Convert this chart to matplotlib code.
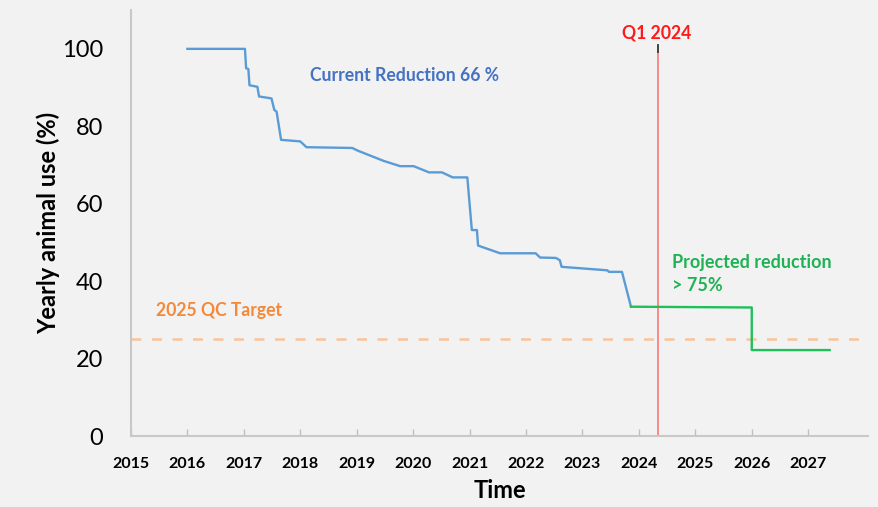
import matplotlib.pyplot as plt

plt.rcParams['font.family'] = ['Lato', 'DejaVu Sans']

current_x = [2016.0, 2017.02, 2017.04, 2017.08, 2017.10, 2017.24, 2017.27, 2017.49, 2017.54, 2017.58,
             2017.66, 2018.0, 2018.11, 2018.92, 2019.02, 2019.47, 2019.77, 2020.01, 2020.28, 2020.51,
             2020.70, 2020.96, 2021.04, 2021.13, 2021.15, 2021.54, 2022.17, 2022.25, 2022.53, 2022.60,
             2022.63, 2023.44, 2023.47, 2023.70, 2023.86]
current_y = [100, 100, 95, 94.8, 90.6, 90.2, 87.7, 87.2, 84.2, 83.8,
             76.5, 76.1, 74.6, 74.4, 73.7, 71.1, 69.7, 69.7, 68.1, 68.1,
             66.8, 66.8, 53.2, 53.2, 49.2, 47.2, 47.2, 46.1, 46.0, 45.4,
             43.7, 42.8, 42.4, 42.4, 33.4]

projected_x = [2023.86, 2026.0, 2026.0, 2027.38]
projected_y = [33.4, 33.2, 22.2, 22.2]

qc_target = 25
q1_2024 = 2024.34
years = list(range(2015, 2028))
y_ticks = [0, 20, 40, 60, 80, 100]

bg = '#f2f2f2'
fig = plt.figure(figsize=(8.79, 5.07), dpi=100, facecolor=bg)
ax = fig.add_axes([0.149, 0.140, 0.8385, 0.840], facecolor=bg)

ax.axhline(qc_target, color='#f9c39b', lw=1.8, dashes=(4, 4.2), zorder=1)
ax.plot(current_x, current_y, color='#5b9bd5', lw=1.7, zorder=3)
ax.plot(projected_x, projected_y, color='#1fbf5a', lw=1.7, zorder=3)
ax.plot([q1_2024, q1_2024], [0, 99.2], color='#ff6b6b', lw=1.1, zorder=2)
ax.plot([q1_2024, q1_2024], [99.2, 100.9], color='#333333', lw=1.3, zorder=2)

note_size = 12.7
ax.text(2018.17, 93.0, 'Current Reduction 66 %', color='#4472c4', fontsize=note_size,
        fontweight='bold', va='center', ha='left')
ax.text(2024.58, 44.8, 'Projected reduction', color='#1fb254', fontsize=note_size + 0.3,
        fontweight='bold', va='center', ha='left')
ax.text(2024.58, 38.9, '> 75%', color='#1fb254', fontsize=note_size + 0.3,
        fontweight='bold', va='center', ha='left')
ax.text(2015.44, 32.5, '2025 QC Target', color='#f4893a', fontsize=note_size,
        fontweight='bold', va='center', ha='left')
ax.text(q1_2024 - 0.03, 104.2, 'Q1 2024', color='#ff1a1a', fontsize=note_size,
        fontweight='bold', va='center', ha='center')

ax.set_xlim(2015, 2028.06)
ax.set_ylim(0, 110)
ax.set_xticks(years)
ax.set_xticklabels([str(y) for y in years], fontweight='bold', fontsize=11.5)
ax.set_yticks(y_ticks)
ax.set_yticklabels([str(v) for v in y_ticks], fontsize=17)

ax.tick_params(axis='x', direction='in', length=5, width=1, color='#bfbfbf', pad=15)
ax.tick_params(axis='y', length=0, pad=20)

for side in ['top', 'right']:
    ax.spines[side].set_visible(False)
for side in ['left', 'bottom']:
    ax.spines[side].set_color('#c8c8c8')
    ax.spines[side].set_linewidth(1.5)

ax.set_xlabel('Time', fontsize=17, fontweight='bold', labelpad=6)
ax.set_ylabel('Yearly animal use (%)', fontsize=17, fontweight='bold', labelpad=1)

fig.savefig('out.png', dpi=100, facecolor=bg)
